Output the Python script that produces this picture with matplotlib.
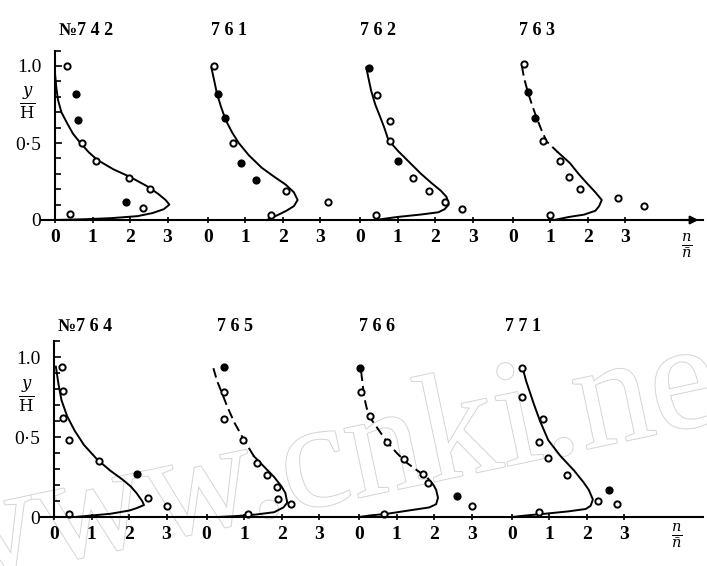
import matplotlib
matplotlib.use("Agg")
import matplotlib.pyplot as plt
import matplotlib.patheffects as pe

plt.rcParams['font.family'] = ['Liberation Serif', 'DejaVu Serif']
plt.rcParams['mathtext.fontset'] = 'dejavuserif'

# ---- data: n/n_bar (x) against y/H (y) ----
# top row
c742_n = [0.0, 0.04, 0.08, 0.17, 0.32, 0.48, 0.68, 0.9, 1.13, 1.55, 2.0, 2.45, 2.75, 2.95, 3.05, 2.9, 2.6, 2.2, 1.5, 0.8, 0.0]
c742_y = [0.95, 0.85, 0.78, 0.70, 0.63, 0.56, 0.50, 0.44, 0.39, 0.33, 0.28, 0.22, 0.17, 0.13, 0.10, 0.07, 0.045, 0.025, 0.012, 0.005, 0.0]
p742_n = [0.32, 0.57, 0.62, 0.72, 1.1, 1.97, 2.54, 1.9, 2.35, 0.4]
p742_y = [1.0, 0.82, 0.65, 0.5, 0.38, 0.27, 0.2, 0.12, 0.08, 0.04]
f742 = [1, 2, 7]

c761_n = [0.1, 0.18, 0.25, 0.35, 0.48, 0.65, 0.83, 1.1, 1.44, 1.78, 2.08, 2.3, 2.4, 2.3, 2.1, 1.85, 1.58]
c761_y = [0.99, 0.9, 0.82, 0.74, 0.65, 0.57, 0.5, 0.42, 0.34, 0.28, 0.23, 0.18, 0.13, 0.09, 0.06, 0.03, 0.0]
p761_n = [0.16, 0.27, 0.45, 0.67, 0.9, 1.3, 2.1, 3.2, 1.7]
p761_y = [1.0, 0.82, 0.66, 0.5, 0.37, 0.26, 0.19, 0.12, 0.03]
f761 = [1, 2, 4, 5]

c762_n = [0.16, 0.22, 0.29, 0.4, 0.53, 0.64, 0.75, 1.0, 1.33, 1.62, 1.9, 2.15, 2.3, 2.36, 2.25, 2.08, 1.6, 1.0, 0.4]
c762_y = [0.99, 0.92, 0.84, 0.75, 0.67, 0.6, 0.52, 0.45, 0.37, 0.3, 0.24, 0.19, 0.15, 0.1, 0.07, 0.05, 0.035, 0.02, 0.0]
p762_n = [0.24, 0.45, 0.8, 0.8, 1.0, 1.4, 1.84, 2.27, 2.7, 0.43]
p762_y = [0.99, 0.81, 0.64, 0.51, 0.38, 0.27, 0.19, 0.12, 0.07, 0.03]
f762 = [0, 4]

c763_n = [0.24, 0.3, 0.4, 0.52, 0.64, 0.77, 0.9, 1.2, 1.52, 1.75, 1.97, 2.2, 2.37, 2.3, 2.2, 1.9, 1.5, 1.1]
c763_y = [1.0, 0.92, 0.83, 0.74, 0.66, 0.58, 0.51, 0.44, 0.37, 0.3, 0.24, 0.18, 0.13, 0.09, 0.06, 0.035, 0.02, 0.0]
p763_n = [0.3, 0.4, 0.6, 0.8, 1.26, 1.5, 1.8, 2.8, 3.5, 1.0]
p763_y = [1.01, 0.83, 0.66, 0.51, 0.38, 0.28, 0.2, 0.14, 0.09, 0.03]
f763 = [1, 2]

# bottom row
c764_n = [0.05, 0.12, 0.2, 0.35, 0.55, 0.8, 1.15, 1.5, 1.85, 2.05, 2.2, 2.35, 2.4, 2.2, 2.0, 1.5, 0.8, 0.55]
c764_y = [0.94, 0.83, 0.73, 0.63, 0.54, 0.45, 0.36, 0.29, 0.23, 0.19, 0.15, 0.1, 0.075, 0.055, 0.04, 0.02, 0.005, 0.0]
p764_n = [0.2, 0.24, 0.24, 0.4, 1.2, 2.2, 2.5, 3.0, 0.4]
p764_y = [0.94, 0.79, 0.62, 0.48, 0.35, 0.27, 0.12, 0.07, 0.02]
f764 = [5]

c765_n = [0.18, 0.28, 0.4, 0.55, 0.74, 1.0, 1.26, 1.55, 1.8, 2.0, 2.1, 2.15, 2.05, 1.8, 1.3, 0.74, 0.3]
c765_y = [0.93, 0.85, 0.78, 0.69, 0.59, 0.48, 0.38, 0.31, 0.25, 0.19, 0.15, 0.09, 0.06, 0.03, 0.015, 0.005, 0.0]
p765_n = [0.45, 0.47, 0.47, 0.97, 1.34, 1.6, 1.87, 1.9, 2.24, 1.1]
p765_y = [0.94, 0.78, 0.61, 0.48, 0.34, 0.26, 0.19, 0.11, 0.08, 0.02]
f765 = [0]

c766_n = [0.05, 0.09, 0.13, 0.2, 0.29, 0.5, 0.74, 1.0, 1.26, 1.55, 1.8, 1.98, 2.05, 2.1, 2.05, 1.87, 1.3, 0.74, 0.3, 0.0]
c766_y = [0.91, 0.83, 0.75, 0.68, 0.62, 0.55, 0.47, 0.4, 0.34, 0.29, 0.25, 0.2, 0.17, 0.12, 0.08, 0.06, 0.04, 0.02, 0.01, 0.0]
p766_n = [0.03, 0.05, 0.29, 0.74, 1.2, 1.7, 1.84, 2.6, 3.0, 0.66]
p766_y = [0.93, 0.78, 0.63, 0.47, 0.36, 0.27, 0.21, 0.13, 0.07, 0.02]
f766 = [0, 7]

c771_n = [0.3, 0.38, 0.48, 0.58, 0.75, 0.97, 1.3, 1.66, 1.9, 2.05, 2.16, 2.1, 1.97, 1.5, 0.87, 0.4, 0.0]
c771_y = [0.92, 0.85, 0.78, 0.71, 0.6, 0.48, 0.38, 0.29, 0.22, 0.17, 0.11, 0.07, 0.05, 0.035, 0.02, 0.01, 0.0]
p771_n = [0.26, 0.26, 0.84, 0.71, 0.97, 1.47, 2.3, 2.6, 2.8, 0.71]
p771_y = [0.93, 0.75, 0.61, 0.47, 0.37, 0.26, 0.1, 0.17, 0.08, 0.03]
f771 = [7]

top_titles = ['№7 4 2', '7 6 1', '7 6 2', '7 6 3']
bot_titles = ['№7 6 4', '7 6 5', '7 6 6', '7 7 1']
tick_labels = ['0', '1', '2', '3']

# (curve n, curve y, points n, points y, filled points, index where the dashed upper part ends)
top_panels = [(c742_n, c742_y, p742_n, p742_y, f742, 0),
              (c761_n, c761_y, p761_n, p761_y, f761, 0),
              (c762_n, c762_y, p762_n, p762_y, f762, 0),
              (c763_n, c763_y, p763_n, p763_y, f763, 7)]
bot_panels = [(c764_n, c764_y, p764_n, p764_y, f764, 0),
              (c765_n, c765_y, p765_n, p765_y, f765, 6),
              (c766_n, c766_y, p766_n, p766_y, f766, 11),
              (c771_n, c771_y, p771_n, p771_y, f771, 0)]

W, H = 707, 566
SCALE = 37.5     # px per unit of n/n_bar
STEP = 4.07      # distance between panel origins (data units)

fig = plt.figure(figsize=(W / 100, H / 100), dpi=100)

# faint outlined watermark behind the plots
fig.text(-0.088, -0.037, 'www.cnki.net', rotation=12, rotation_mode='anchor',
         fontsize=110, color='white', ha='left', va='baseline', zorder=-5,
         path_effects=[pe.withStroke(linewidth=1.4, foreground='#d4d4d4')])


def make_row(x0_px, y0_px, yscale, panels, titles, title_y, title_dx, lab_xy, arrow):
    xmin, xmax = -1.2, (W - x0_px) / SCALE
    ymin, ymax = -0.3, 1.3
    left = (x0_px + xmin * SCALE) / W
    bottom = 1 - (y0_px - ymin * yscale) / H
    ax = fig.add_axes([left, bottom, (xmax - xmin) * SCALE / W, (ymax - ymin) * yscale / H])
    ax.set_xlim(xmin, xmax)
    ax.set_ylim(ymin, ymax)
    ax.patch.set_alpha(0)
    for s in ['top', 'right']:
        ax.spines[s].set_visible(False)
    ax.spines['bottom'].set_position(('data', 0))
    ax.spines['bottom'].set_bounds(-0.35, xmax - 0.1)
    ax.spines['left'].set_position(('data', 0))
    ax.spines['left'].set_bounds(0, 1.1)
    for s in ['bottom', 'left']:
        ax.spines[s].set_linewidth(1.5)

    ticks, labels = [], []
    for i, (cn, cy, pn, py, filled, k) in enumerate(panels):
        off = i * STEP
        xs = [off + v for v in cn]
        if k > 0:
            ax.plot(xs[:k + 1], cy[:k + 1], color='black', lw=1.4, ls=(0, (5, 2.5)))
            ax.plot(xs[k:], cy[k:], color='black', lw=1.4)
        else:
            ax.plot(xs, cy, color='black', lw=1.4)
        for j, (a, b) in enumerate(zip(pn, py)):
            ax.plot(off + a, b, 'o', ms=4.5, mew=1.4, mec='black',
                    mfc='black' if j in filled else 'white', clip_on=False)
        ticks += [off + t for t in range(4)]
        labels += tick_labels
        if i == 0:
            ax.text(off + 0.1, title_y, titles[i], fontsize=13, fontweight='bold',
                    ha='left', va='center')
        else:
            ax.text(off + title_dx[i], title_y, titles[i], fontsize=13, fontweight='bold',
                    ha='center', va='center')

    ax.set_xticks(ticks, labels, fontweight='bold')
    ax.tick_params(axis='x', direction='inout', length=5, width=1.2, pad=4, labelsize=14)
    ax.set_yticks([0, 0.5, 1.0], ['0', '0·5', '1.0'])
    ax.set_yticks([0.1, 0.2, 0.3, 0.4, 0.6, 0.7, 0.8, 0.9, 1.1], minor=True)
    ax.tick_params(axis='y', which='major', direction='in', length=5, width=1.2, pad=10, labelsize=14)
    ax.tick_params(axis='y', which='minor', direction='in', length=4, width=1.2)

    ax.text(-0.75, 0.76, r'$\frac{y}{\mathrm{H}}$', fontsize=17, ha='center', va='center')
    ax.text(lab_xy[0], lab_xy[1], r'$\frac{n}{\bar{n}}$', fontsize=15, ha='center', va='center')
    if arrow:
        ax.annotate('', xy=(xmax - 0.15, 0), xytext=(xmax - 0.8, 0),
                    arrowprops=dict(arrowstyle='-|>', color='black', lw=1.5, mutation_scale=12))
    return ax


make_row(55, 220, 154, top_panels, top_titles, 1.23, [0, 0.56, 0.48, 0.64], (16.85, -0.17), True)
make_row(54, 517, 160, bot_panels, bot_titles, 1.19, [0, 0.76, 0.47, 0.3], (16.6, -0.12), False)

fig.savefig('out.png', dpi=100)
